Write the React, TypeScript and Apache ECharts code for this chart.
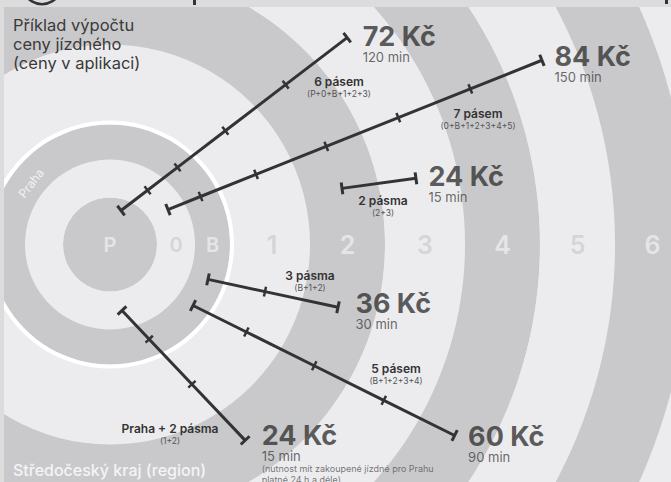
import React, { useEffect, useRef } from "react";
import * as echarts from "echarts";

// ---- zones (rings of the tariff system) ----
const zoneNames = ["P", "0", "B", "1", "2", "3", "4", "5", "6"];
const zoneInner = [0, 47, 85, 124, 200, 275, 355, 430, 505];
const zoneOuter = [47, 85, 120, 200, 275, 355, 430, 505, 580];
const pragueBorder = [120, 124];

// ---- routes: [radius, angle in degrees counter-clockwise from east] ----
const routeZones = [
  ["P", "0", "B", "1", "2", "3"],
  ["0", "B", "1", "2", "3", "4", "5"],
  ["2", "3"],
  ["B", "1", "2"],
  ["B", "1", "2", "3", "4"],
  ["0", "B", "1", "2"],
];
const routeStart = [
  [35.7, 72.0],
  [67.7, 31.1],
  [238.7, 13.6],
  [104, -19.6],
  [103, -36.3],
  [67.1, -79.7],
];
const routeEnd = [
  [314.7, 41.1],
  [469.6, 23.1],
  [313, 12.2],
  [236.5, -15.4],
  [394, -29.0],
  [238, -55.4],
];
const routeCountLabel = ["6 pásem", "7 pásem", "2 pásma", "3 pásma", "5 pásem", "Praha + 2 pásma"];
const routeZoneList = ["(P+0+B+1+2+3)", "(0+B+1+2+3+4+5)", "(2+3)", "(B+1+2)", "(B+1+2+3+4)", "(1+2)"];
const routePrice = ["72 Kč", "84 Kč", "24 Kč", "36 Kč", "60 Kč", "24 Kč"];
const routeDuration = ["120 min", "150 min", "15 min", "30 min", "90 min", "15 min"];
const routeNote = ["", "", "", "", "", "(nutnost mít zakoupené jízdné pro Prahu\nplatné 24 h a déle)"];

const titleLines = ["Příklad výpočtu", "ceny jízdného", "(ceny v aplikaci)"];
const regionLabel = "Středočeský kraj (region)";
const pragueLabel = "Praha";

// ---- styles / layout ----
const DARK = "#c9c9cb";
const LIGHT = "#ececee";
const DIGIT_ON_LIGHT = "#cfcfd1";
const DIGIT_ON_DARK = "#eeeeef";
const STRIP = "#dcdcdd";
const INK = "#333333";
const FONT = "Inter, 'Noto Sans', sans-serif";
const CENTER = [110, 244.5];
const POLAR_R = 700;
const priceShift = [
  [15.5, -1.5],
  [12.5, -3.5],
  [12.5, -1.5],
  [17.5, -4],
  [13.5, 1],
  [16.5, -4.5],
];
const countLabelPos = [
  [339, 81],
  [478, 113],
  [383, 200],
  [310, 275],
  [396, 368],
  [170, 428],
];

const rad = Math.PI / 180;
const norm = (a: number) => (a < 0 ? a + 360 : a);
const zoneMid = (name: string) => {
  const i = zoneNames.indexOf(name);
  return (zoneInner[i] + zoneOuter[i]) / 2;
};
const toXY = (p: number[]) => [p[0] * Math.cos(p[1] * rad), p[0] * Math.sin(p[1] * rad)];
const toPolar = (x: number, y: number) => [Math.hypot(x, y), norm(Math.atan2(y, x) / rad)];

function routeGeometry(i: number) {
  const [x1, y1] = toXY(routeStart[i]);
  const [x2, y2] = toXY(routeEnd[i]);
  const dx = x2 - x1;
  const dy = y2 - y1;
  const mids = routeZones[i].slice(1, -1).map(zoneMid);
  const ticks = mids.map((R) => {
    const a = dx * dx + dy * dy;
    const b = 2 * (x1 * dx + y1 * dy);
    const c = x1 * x1 + y1 * y1 - R * R;
    const t = (-b + Math.sqrt(b * b - 4 * a * c)) / (2 * a);
    return toPolar(x1 + t * dx, y1 + t * dy);
  });
  const phi = Math.atan2(dy, dx) / rad;
  const pts = [
    [routeStart[i][0], norm(routeStart[i][1])],
    ...ticks,
    [routeEnd[i][0], norm(routeEnd[i][1])],
  ];
  return { pts, phi };
}

export default function App() {
  const ref = useRef<HTMLDivElement>(null);
  useEffect(() => {
    document.body.style.margin = "0";
    const chart = echarts.init(ref.current!, undefined, { renderer: "svg" });

    const ringSeries: any[] = zoneNames.map((z, i) => ({
      type: "pie",
      center: CENTER,
      radius: [zoneInner[i], zoneOuter[i]],
      silent: true,
      z: 1,
      label: { show: false },
      labelLine: { show: false },
      emphasis: { disabled: true },
      itemStyle: { borderWidth: 0 },
      data: [{ value: 1, name: z, itemStyle: { color: i % 2 === 0 ? DARK : LIGHT } }],
    }));
    ringSeries.push({
      type: "pie",
      center: CENTER,
      radius: pragueBorder,
      silent: true,
      z: 1,
      label: { show: false },
      labelLine: { show: false },
      emphasis: { disabled: true },
      itemStyle: { borderWidth: 0 },
      data: [{ value: 1, name: "Praha border", itemStyle: { color: "#ffffff" } }],
    });

    const digitSeries = {
      type: "scatter",
      coordinateSystem: "polar",
      symbolSize: 0,
      silent: true,
      z: 3,
      data: zoneNames.map((z, i) => ({
        name: z,
        value: [i === 0 ? 0 : zoneMid(z), 0],
        label: {
          color: i % 2 === 0 ? DIGIT_ON_DARK : DIGIT_ON_LIGHT,
          fontSize: i < 3 ? 20 : 25,
        },
      })),
      label: {
        show: true,
        position: "inside",
        formatter: "{b}",
        fontFamily: FONT,
        fontWeight: 600,
      },
    };

    const routeSeries = routeStart.map((_, i) => {
      const { pts, phi } = routeGeometry(i);
      return {
        type: "line",
        coordinateSystem: "polar",
        silent: true,
        clip: false,
        z: 5,
        symbol: "rect",
        showSymbol: true,
        showAllSymbol: true,
        lineStyle: { color: INK, width: 3 },
        itemStyle: { color: INK },
        data: pts.map((p, k) => ({
          value: p,
          symbolSize: k === 0 || k === pts.length - 1 ? [3, 12] : [2.5, 10],
          symbolRotate: phi,
        })),
      };
    });

    const priceSeries = {
      type: "scatter",
      coordinateSystem: "polar",
      symbolSize: 0,
      silent: true,
      z: 6,
      data: routeEnd.map((e, i) => ({
        value: [e[0], norm(e[1])],
        label: { position: [priceShift[i][0], priceShift[i][1] - 14] },
      })),
      label: {
        show: true,
        align: "left",
        verticalAlign: "top",
        formatter: (p: any) => {
          const i = p.dataIndex;
          let s = `{p|${routePrice[i]}}\n{m|${routeDuration[i]}}`;
          if (routeNote[i]) s += routeNote[i].split("\n").map((l) => `\n{n|${l}}`).join("");
          return s;
        },
        rich: {
          p: { fontFamily: FONT, fontSize: 27, fontWeight: "bold", color: INK, lineHeight: 28 },
          m: { fontFamily: FONT, fontSize: 13, color: "#444444", lineHeight: 13 },
          n: { fontFamily: FONT, fontSize: 9, color: "#555555", lineHeight: 11 },
        },
      },
    };

    const graphics: any[] = [
      { type: "rect", z: 100, shape: { x: 0, y: 0, width: 671, height: 7 }, style: { fill: STRIP } },
      { type: "rect", z: 100, shape: { x: 0, y: 0, width: 4, height: 482 }, style: { fill: STRIP } },
      { type: "circle", z: 101, shape: { cx: 42, cy: -16, r: 20 }, style: { fill: "none", stroke: INK, lineWidth: 2.5 } },
      { type: "rect", z: 101, shape: { x: 193, y: 0, width: 3, height: 5 }, style: { fill: INK } },
      { type: "rect", z: 101, shape: { x: 665, y: 0, width: 3, height: 4 }, style: { fill: INK } },
      {
        type: "text",
        z: 100,
        x: 13,
        y: 15,
        style: {
          text: titleLines.join("\n"),
          fontFamily: FONT,
          fontSize: 16.5,
          lineHeight: 19,
          fill: "#3a3a3a",
          align: "left",
          verticalAlign: "top",
        },
      },
      {
        type: "text",
        z: 100,
        x: 13,
        y: 470,
        style: {
          text: regionLabel,
          fontFamily: FONT,
          fontSize: 16,
          fontWeight: 500,
          fill: "#f4f4f5",
          align: "left",
          verticalAlign: "middle",
        },
      },
      {
        type: "text",
        z: 100,
        x: 31,
        y: 183,
        rotation: 52 * rad,
        style: {
          text: pragueLabel,
          fontFamily: FONT,
          fontSize: 12,
          fill: "#f2f2f3",
          align: "center",
          verticalAlign: "middle",
        },
      },
    ];
    routeCountLabel.forEach((t, i) => {
      graphics.push({
        type: "text",
        z: 100,
        x: countLabelPos[i][0],
        y: countLabelPos[i][1],
        style: {
          text: t,
          fontFamily: FONT,
          fontSize: 12,
          fontWeight: 600,
          fill: INK,
          align: "center",
          verticalAlign: "middle",
        },
      });
      graphics.push({
        type: "text",
        z: 100,
        x: countLabelPos[i][0],
        y: countLabelPos[i][1] + 12.5,
        style: {
          text: routeZoneList[i],
          fontFamily: FONT,
          fontSize: 8.5,
          fill: "#555555",
          align: "center",
          verticalAlign: "middle",
        },
      });
    });

    chart.setOption({
      animation: false,
      backgroundColor: LIGHT,
      polar: { center: CENTER, radius: POLAR_R },
      radiusAxis: {
        type: "value",
        min: 0,
        max: POLAR_R,
        show: false,
        splitLine: { show: false },
        axisLine: { show: false },
        axisLabel: { show: false },
        axisTick: { show: false },
      },
      angleAxis: {
        type: "value",
        min: 0,
        max: 360,
        startAngle: 0,
        clockwise: false,
        show: false,
        splitLine: { show: false },
        axisLine: { show: false },
        axisLabel: { show: false },
        axisTick: { show: false },
      },
      series: [...ringSeries, digitSeries, ...routeSeries, priceSeries],
      graphic: graphics,
    });
    return () => chart.dispose();
  }, []);
  return (
    <div
      ref={ref}
      style={{ position: "fixed", left: 0, top: 0, width: 671, height: 482 }}
    />
  );
}
